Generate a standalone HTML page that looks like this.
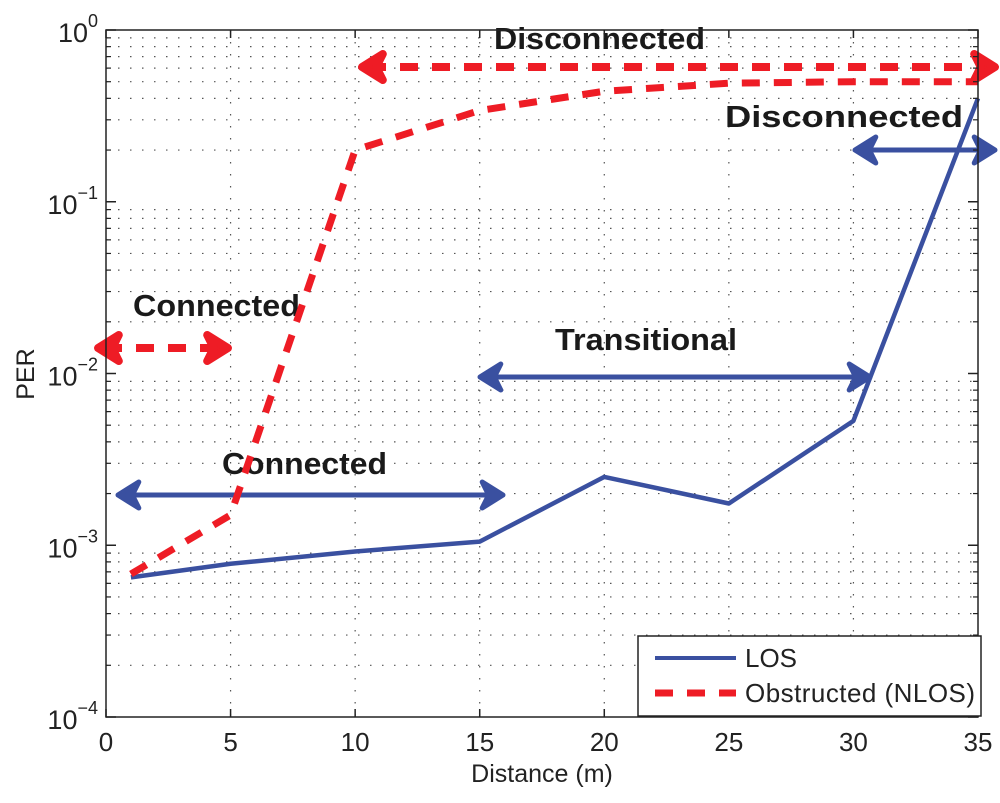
<!DOCTYPE html>
<html><head><meta charset="utf-8"><style>
body{margin:0;background:#fff}
svg{font-family:"Liberation Sans",sans-serif}
</style></head><body>
<svg id="chart" width="1000" height="798" xmlns="http://www.w3.org/2000/svg">
<g id="grid"></g>
<g id="ann"></g>
<g id="series"></g>
<g id="axes"></g>
<text x="542" y="782" font-size="25" text-anchor="middle" fill="#222">Distance (m)</text>
<text transform="translate(34,374) rotate(-90)" font-size="25" text-anchor="middle" fill="#222">PER</text>
<g>
<rect x="638" y="636" width="343" height="80" fill="#fff" stroke="#222" stroke-width="1.5"/>
<line x1="655" y1="658" x2="736" y2="658" stroke="#3a50a0" stroke-width="4"/>
<line x1="655" y1="693" x2="736" y2="693" stroke="#ee1c25" stroke-width="7" stroke-dasharray="18,14"/>
<text x="745" y="667" font-size="26" fill="#222">LOS</text>
<text x="745" y="702" font-size="26" fill="#222" textLength="230">Obstructed (NLOS)</text>
</g>
</svg>
<script>
const xTicks=[0,5,10,15,20,25,30,35];
const yDecades=[0,-1,-2,-3,-4];
const losX=[1,5,10,15,20,25,30,35];
const losY=[6.5e-4,7.8e-4,9.2e-4,1.05e-3,2.5e-3,1.75e-3,5.3e-3,0.4];
const nlosX=[1,5,10,15,20,25,30,35];
const nlosY=[6.8e-4,1.5e-3,0.2,0.34,0.44,0.49,0.5,0.5];
const L=106,R=978,T=30,B=717;
const X=v=>L+(v-0)/35*(R-L);
const Y=v=>T+(-Math.log10(v))/4*(B-T);
const NS="http://www.w3.org/2000/svg";
function mk(p,tag,a){const e=document.createElementNS(NS,tag);for(const k in a)e.setAttribute(k,a[k]);p.appendChild(e);return e;}
const grid=document.getElementById('grid'),axes=document.getElementById('axes'),ser=document.getElementById('series'),ann=document.getElementById('ann');
xTicks.forEach(t=>{if(t>0&&t<35){const l=mk(grid,'line',{x1:X(t),x2:X(t),y1:T,y2:B,stroke:'#555','stroke-width':1.2,'stroke-dasharray':'1.5,10.5'});

}
const tl=mk(axes,'text',{x:X(t),y:B+34,'font-size':26,'text-anchor':'middle',fill:'#222'});tl.textContent=t;


mk(axes,'line',{x1:X(t),x2:X(t),y1:T,y2:T+8,stroke:'#222','stroke-width':1.5});
mk(axes,'line',{x1:X(t),x2:X(t),y1:B,y2:B-8,stroke:'#222','stroke-width':1.5});});
yDecades.forEach(d=>{const y=Y(Math.pow(10,d));
const g=mk(axes,'text',{x:L-8,y:y+12,'font-size':27,'text-anchor':'end',fill:'#222'});


g.innerHTML='10<tspan dy="-15" font-size="18">'+(d===0?'0':'\u2212'+(-d))+'</tspan>';
mk(axes,'line',{x1:L,x2:L+10,y1:y,y2:y,stroke:'#222','stroke-width':1.5});
mk(axes,'line',{x1:R,x2:R-10,y1:y,y2:y,stroke:'#222','stroke-width':1.5});
if(d>-4){for(let m=2;m<=9;m++){const yy=Y(m*Math.pow(10,d-1));
const l=mk(grid,'line',{x1:L,x2:R,y1:yy,y2:yy,stroke:'#555','stroke-width':1.2,'stroke-dasharray':'1.5,10.5'});


mk(axes,'line',{x1:L,x2:L+5,y1:yy,y2:yy,stroke:'#222','stroke-width':1.2});
mk(axes,'line',{x1:R,x2:R-5,y1:yy,y2:yy,stroke:'#222','stroke-width':1.2});}}});
const fr=mk(axes,'rect',{x:L,y:T,width:R-L,height:B-T,fill:'none',stroke:'#222','stroke-width':1.5});


function arrow(x1,x2,y,col,dash,w){
const g=mk(ann,'g',{});


const a={x1:x1+6,x2:x2-6,y1:y,y2:y,stroke:col,'stroke-width':w};if(dash)a['stroke-dasharray']=dash;mk(g,'line',a);
const h=13;
mk(g,'path',{d:`M${x1+h*1.6},${y-h} L${x1},${y} L${x1+h*1.6},${y+h} L${x1+h*1.1},${y}Z`,fill:col,stroke:col,'stroke-width':w,'stroke-linejoin':'round'});
mk(g,'path',{d:`M${x2-h*1.6},${y-h} L${x2},${y} L${x2-h*1.6},${y+h} L${x2-h*1.1},${y}Z`,fill:col,stroke:col,'stroke-width':w,'stroke-linejoin':'round'});}
function label(t,x,y,n,w){const e=mk(ann,'text',{x:x,y:y,'font-size':31,'font-weight':'bold',fill:'#1a1a1a',textLength:w,lengthAdjust:'spacingAndGlyphs'});e.textContent=t;

}
arrow(362,995,67,'#ee1c25','18,14',8);
arrow(98,228,348,'#ee1c25','18,14',8);
arrow(855,995,150,'#3a50a0',null,5);
arrow(480,870,377,'#3a50a0',null,5);
arrow(118,503,495,'#3a50a0',null,5);
label('Disconnected',494,49,'nlos-disconnected-label',211);
label('Disconnected',725,127,'los-disconnected-label',238);
label('Connected',133,316,'nlos-connected-label',167);
label('Transitional',555,350,'los-transitional-label',182);
label('Connected',222,474,'los-connected-label',165);
const pl=mk(ser,'polyline',{points:losX.map((x,i)=>X(x)+','+Y(losY[i])).join(' '),fill:'none',stroke:'#3a50a0','stroke-width':4.5,'stroke-linejoin':'round'});


const pn=mk(ser,'polyline',{points:nlosX.map((x,i)=>X(x)+','+Y(nlosY[i])).join(' '),fill:'none',stroke:'#ee1c25','stroke-width':7,'stroke-dasharray':'18,14'});


</script>
</body></html>
